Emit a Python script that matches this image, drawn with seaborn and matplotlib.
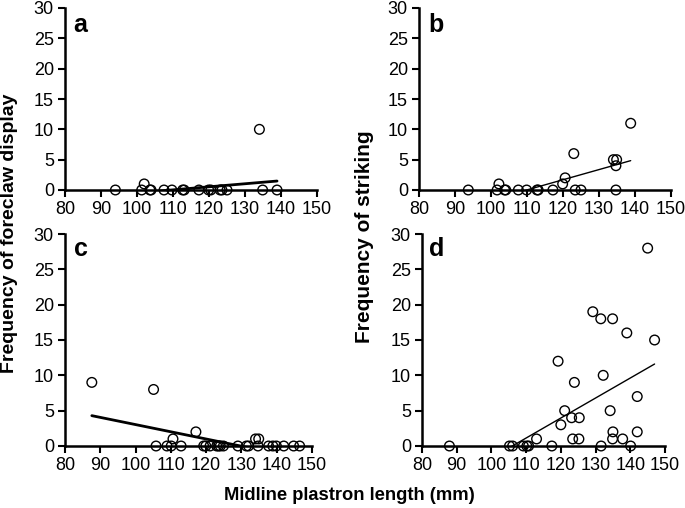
import numpy as np
import pandas as pd
import matplotlib
matplotlib.use("Agg")
import matplotlib.pyplot as plt
import seaborn as sns

# -----------------------
# Data
# -----------------------

# a: foreclaw display
len_a = [94.0, 101.3, 102.0, 103.6, 103.9, 107.5, 109.7, 112.7, 113.1, 117.2,
         119.9, 120.5, 123.1, 123.6, 125.0, 134.0, 134.9, 138.9]
freq_a = [0, 0, 1, 0, 0, 0, 0, 0, 0, 0, 0, 0, 0, 0, 0, 10, 0, 0]

# b: striking
len_b = [93.7, 101.7, 102.2, 103.8, 104.1, 107.6, 109.9, 112.8, 113.1, 117.2,
         119.9, 120.6, 123.0, 123.4, 125.0, 134.0, 134.9, 134.7, 134.7, 138.8]
freq_b = [0, 0, 1, 0, 0, 0, 0, 0, 0, 0, 1, 2, 6, 0, 0, 5, 5, 4, 0, 11]

# c: foreclaw display
len_c = [87.6, 105.1, 105.8, 108.9, 110.1, 110.6, 112.9, 117.1, 119.3, 119.9,
         121.1, 123.0, 123.5, 124.0, 124.9, 129.0, 131.4, 132.0, 134.0, 134.9,
         134.7, 137.7, 138.9, 139.9, 142.0, 144.8, 146.5]
freq_c = [9, 8, 0, 0, 0, 1, 0, 2, 0, 0, 0, 0, 0, 0, 0, 0, 0, 0, 1, 1,
          0, 0, 0, 0, 0, 0, 0]

# d: striking
len_d = [87.9, 105.2, 106.1, 109.2, 110.2, 110.7, 113.0, 117.4, 119.2, 120.0,
         121.1, 123.1, 123.9, 123.4, 125.2, 125.3, 129.2, 131.5, 131.6, 132.2,
         134.9, 134.2, 135.0, 134.9, 137.8, 139.0, 140.1, 142.0, 142.0, 145.0,
         147.0]
freq_d = [0, 0, 0, 0, 0, 0, 1, 0, 12, 3, 5, 4, 9, 1, 1, 4, 19, 18, 0, 10,
          18, 5, 2, 1, 1, 16, 0, 7, 2, 28, 15]

# linear trend lines (slope, intercept) as drawn in the figure
trend_a = (0.0503, -5.51)
trend_b = (0.1675, -18.41)
trend_c = (-0.1019, 13.22)
trend_d = (0.283, -30.0)

panel_letters = ["a", "b", "c", "d"]
x_ticks = [80, 90, 100, 110, 120, 130, 140, 150]
y_ticks = [0, 5, 10, 15, 20, 25, 30]

# -----------------------
# Plot
# -----------------------

sns.set_style("ticks")
plt.rcParams["font.family"] = ["Liberation Sans", "DejaVu Sans"]
for key in ["text.color", "axes.labelcolor", "xtick.color", "ytick.color", "axes.edgecolor"]:
    plt.rcParams[key] = "black"

W, H = 685, 508
fig = plt.figure(figsize=(W / 100, H / 100), dpi=100)

def px_axes(left, top, right, bottom):
    return fig.add_axes([left / W, 1 - bottom / H, (right - left) / W, (bottom - top) / H])

panels = [
    (px_axes(65, 8, 317, 190), len_a, freq_a, trend_a, 2.0, (73, 32)),
    (px_axes(419, 8, 671, 190), len_b, freq_b, trend_b, 1.0, (428, 32)),
    (px_axes(65, 234, 312, 446), len_c, freq_c, trend_c, 2.0, (74, 256)),
    (px_axes(422, 234, 665, 446), len_d, freq_d, trend_d, 1.0, (429, 256)),
]

for (ax, xs, ys, (m, b0), lw, (lx, ly)), letter in zip(panels, panel_letters):
    df = pd.DataFrame({"len": xs, "freq": ys})
    x_line = np.array([df["len"].min(), df["len"].max()])
    sns.lineplot(x=x_line, y=m * x_line + b0, ax=ax, color="black", lw=lw)
    sns.scatterplot(data=df, x="len", y="freq", ax=ax, s=48,
                    facecolor="none", edgecolor="black", linewidth=1.0,
                    clip_on=False, zorder=3)
    ax.set_xlim(80, 150)
    ax.set_ylim(0, 30)
    ax.set_xticks(x_ticks)
    ax.set_yticks(y_ticks)
    ax.set_xlabel("")
    ax.set_ylabel("")
    ax.tick_params(labelsize=13, length=5, width=1.5, direction="out", pad=3)
    for s in ["left", "bottom"]:
        ax.spines[s].set_linewidth(1.8)
    sns.despine(ax=ax)
    fig.text(lx / W, 1 - ly / H, letter, fontsize=18, fontweight="bold",
             ha="left", va="baseline")

fig.text(10 / W, 1 - 233 / H, "Frequency of foreclaw display", rotation=90,
         fontsize=14, fontweight="bold", ha="center", va="center")
fig.text(365 / W, 1 - 237 / H, "Frequency of striking", rotation=90,
         fontsize=15, fontweight="bold", ha="center", va="center")
fig.text(349 / W, 1 - 495 / H, "Midline plastron length (mm)",
         fontsize=13.2, fontweight="bold", ha="center", va="center")

fig.savefig("out.png", dpi=100)
